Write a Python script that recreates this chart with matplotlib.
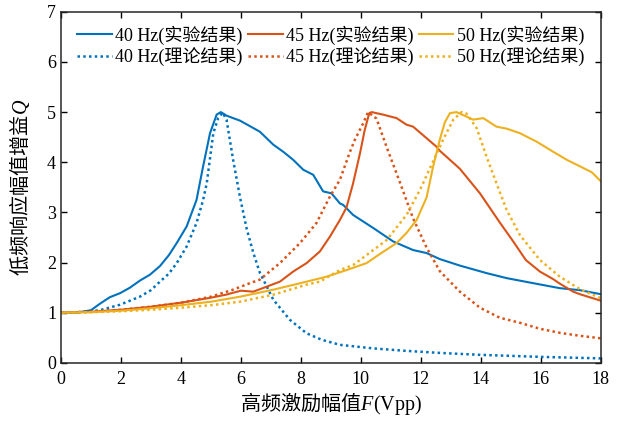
import matplotlib
matplotlib.use("Agg")
import matplotlib.pyplot as plt

plt.rcParams['font.family'] = ['Liberation Serif', 'Noto Sans CJK SC']
plt.rcParams['mathtext.fontset'] = 'custom'
plt.rcParams['mathtext.rm'] = 'Liberation Serif'
plt.rcParams['mathtext.it'] = 'Liberation Serif:italic'

# ---- data ----
x_exp40 = [0, 0.5, 1.0, 1.3, 1.63, 1.97, 2.3, 2.63, 2.97, 3.3, 3.6, 3.86, 4.19, 4.52, 4.74, 4.97,
           5.19, 5.33, 5.52, 5.74, 5.97, 6.3, 6.63, 7.08, 7.41, 7.74, 8.08, 8.41, 8.74, 9.02, 9.3,
           9.41, 9.74, 10.41, 11.08, 11.74, 12.19, 12.63, 13.3, 14.19, 14.86, 15.74, 16.63, 17.3, 18.0]
y_exp40 = [1.0, 1.0, 1.05, 1.18, 1.31, 1.39, 1.5, 1.64, 1.76, 1.93, 2.15, 2.39, 2.72, 3.25, 3.92, 4.58,
           4.95, 5.0, 4.93, 4.88, 4.83, 4.72, 4.61, 4.35, 4.21, 4.05, 3.85, 3.75, 3.42, 3.38, 3.18,
           3.15, 2.95, 2.69, 2.42, 2.25, 2.19, 2.07, 1.94, 1.79, 1.69, 1.59, 1.49, 1.45, 1.37]

x_th40 = [0, 0.5, 1.0, 1.3, 1.97, 2.63, 3.0, 3.3, 3.6, 3.86, 4.19, 4.52, 4.74, 4.86, 5.08, 5.24, 5.39,
          5.52, 5.74, 5.97, 6.19, 6.41, 6.63, 7.08, 7.63, 8.19, 8.7, 9.3, 10.4, 11.5, 12.6, 14.0, 16.0, 18.0]
y_th40 = [1.0, 1.01, 1.03, 1.05, 1.16, 1.32, 1.45, 1.62, 1.78, 1.99, 2.32, 2.79, 3.25, 3.58, 4.58, 4.88, 4.99,
          4.85, 4.05, 3.3, 2.68, 2.2, 1.8, 1.26, 0.86, 0.59, 0.46, 0.36, 0.29, 0.24, 0.2, 0.16, 0.12, 0.09]

x_exp45 = [0, 1, 2, 3, 4, 5, 5.5, 6.0, 6.41, 6.86, 7.3, 7.74, 8.19, 8.63, 8.97, 9.3, 9.52, 9.74, 9.97,
           10.13, 10.28, 10.36, 10.74, 11.19, 11.52, 11.74, 12.19, 12.52, 12.63, 13.3, 13.97, 14.63,
           15.08, 15.5, 15.97, 16.41, 16.63, 17.08, 17.3, 18.0]
y_exp45 = [1.0, 1.02, 1.06, 1.12, 1.2, 1.3, 1.36, 1.44, 1.42, 1.52, 1.62, 1.82, 1.99, 2.22, 2.52, 2.85,
           3.1, 3.58, 4.18, 4.65, 4.98, 5.0, 4.95, 4.88, 4.75, 4.71, 4.48, 4.31, 4.23, 3.87, 3.38, 2.8,
           2.42, 2.05, 1.82, 1.67, 1.58, 1.42, 1.37, 1.24]

x_th45 = [0, 1, 2, 3, 4, 5, 5.74, 6.3, 6.63, 7.3, 7.97, 8.52, 8.97, 9.3, 9.63, 9.8, 10.08, 10.24,
          10.52, 10.86, 11.3, 11.74, 12.19, 12.63, 13.3, 13.97, 14.63, 15.3, 15.97, 16.63, 17.3, 18.0]
y_th45 = [1.0, 1.02, 1.06, 1.12, 1.2, 1.32, 1.46, 1.59, 1.66, 1.99, 2.39, 2.79, 3.32, 3.65, 4.2, 4.45,
          4.78, 5.0, 4.87, 4.3, 3.6, 2.88, 2.3, 1.83, 1.42, 1.1, 0.9, 0.8, 0.68, 0.6, 0.54, 0.49]

x_exp50 = [0, 1, 2, 3, 4, 5, 5.97, 7.08, 8.19, 8.86, 9.52, 10.19, 10.63, 11.19, 11.52, 11.86, 12.19,
           12.41, 12.63, 12.8, 12.97, 13.19, 13.52, 13.74, 14.08, 14.52, 14.86, 15.3, 15.86, 16.41,
           16.86, 17.3, 17.7, 18.0]
y_exp50 = [1.0, 1.01, 1.04, 1.09, 1.15, 1.22, 1.32, 1.46, 1.62, 1.72, 1.85, 1.99, 2.17, 2.39, 2.59, 2.85, 3.3,
           3.92, 4.45, 4.8, 4.98, 5.0, 4.91, 4.85, 4.88, 4.71, 4.67, 4.58, 4.41, 4.21,
           4.05, 3.92, 3.8, 3.62]

x_th50 = [0, 1, 2, 3, 4, 5, 5.97, 7.08, 8.19, 8.63, 9.3, 9.74, 10.19, 10.86, 11.52, 11.97, 12.41, 12.74,
          13.08, 13.36, 13.52, 13.86, 14.19, 14.52, 14.86, 15.3, 15.97, 16.63, 17.3, 18.0]
y_th50 = [1.0, 1.01, 1.03, 1.06, 1.1, 1.15, 1.22, 1.36, 1.56, 1.62, 1.85, 1.95, 2.15, 2.45, 2.95, 3.45, 4.02, 4.45,
          4.85, 5.0, 4.97, 4.68, 4.11, 3.58, 3.05, 2.55, 2.05, 1.72, 1.47, 1.29]

labels_exp = ['40 Hz(实验结果)', '45 Hz(实验结果)', '50 Hz(实验结果)']
labels_th = ['40 Hz(理论结果)', '45 Hz(理论结果)', '50 Hz(理论结果)']
xticks = [0, 2, 4, 6, 8, 10, 12, 14, 16, 18]
yticks = [0, 1, 2, 3, 4, 5, 6, 7]

colors = ['#0072BD', '#D95319', '#EDB120']

fig = plt.figure(figsize=(6.22, 4.21), dpi=100)
ax = fig.add_axes([0.098, 0.138, 0.868, 0.834])

dot = (0, (1.0, 1.3))
lw = 1.5
exps = [(x_exp40, y_exp40), (x_exp45, y_exp45), (x_exp50, y_exp50)]
ths = [(x_th40, y_th40), (x_th45, y_th45), (x_th50, y_th50)]
for i in range(3):
    ax.plot(exps[i][0], exps[i][1], color=colors[i], lw=lw, label=labels_exp[i])
    ax.plot(ths[i][0], ths[i][1], color=colors[i], lw=1.8, ls=dot, label=labels_th[i])

ax.set_xlim(0, 18)
ax.set_ylim(0, 7)
ax.set_xticks(xticks)
ax.set_yticks(yticks)
ax.tick_params(direction='in', top=True, right=True, length=4, width=1.0, labelsize=13)
ax.tick_params(axis='x', pad=6)
for s in ax.spines.values():
    s.set_linewidth(1.1)
    s.set_color('#262626')

ax.set_xlabel('高频激励幅值$\\mathit{F}\\mathrm{(Vpp)}$', fontsize=14.5, family='Noto Sans CJK SC', labelpad=1)
ax.set_ylabel('低频响应幅值增益$\\mathit{Q}$', fontsize=14.5, family='Noto Sans CJK SC', labelpad=11)

leg = ax.legend(ncol=3, loc='upper center', bbox_to_anchor=(0.5, 0.997), frameon=False,
                fontsize=13, handlelength=1.9, handletextpad=0.2, columnspacing=0.3,
                labelspacing=0.15, borderaxespad=0.3)

fig.savefig('out.png', dpi=100)
